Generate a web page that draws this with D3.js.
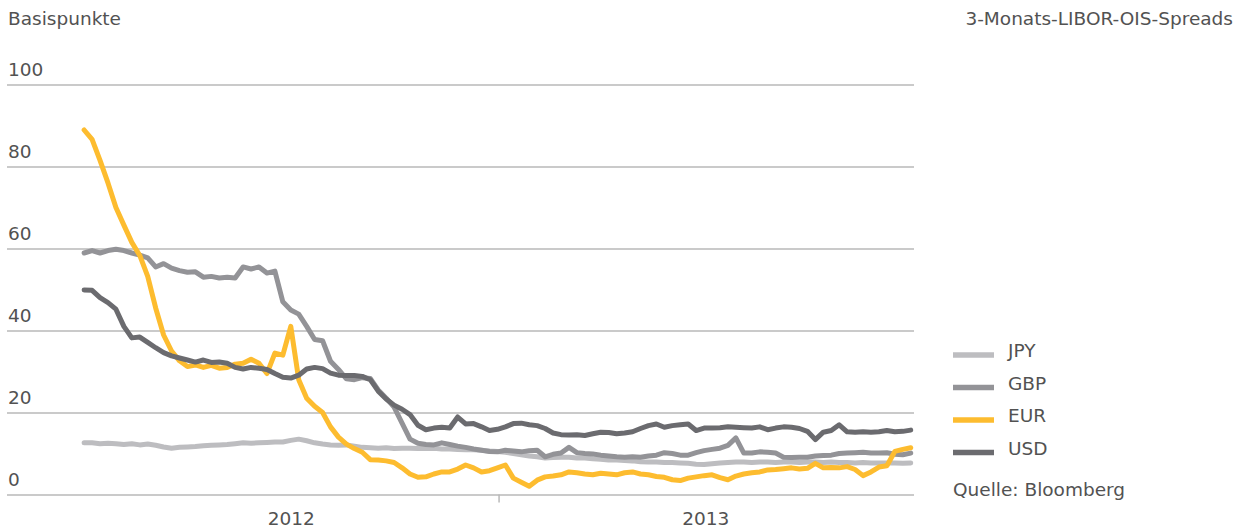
<!DOCTYPE html>
<html>
<head>
<meta charset="utf-8">
<script src="https://cdn.jsdelivr.net/npm/d3@7"></script>
<style>
  body { margin: 0; background: #fff; }
  svg text { font-family: "DejaVu Sans", Verdana, sans-serif; fill: #525252; }
</style>
</head>
<body>
<div id="chart"></div>
<script>
// weekly readings, first Monday of 2012 to last Monday of 2013
const dates = d3.timeMonday.range(new Date(2012, 0, 2), new Date(2014, 0, 1));

const jpy = [
  12.6, 12.6, 12.4, 12.5, 12.4, 12.2, 12.4, 12.1, 12.3, 12,
  11.6, 11.3, 11.5, 11.6, 11.7, 11.9, 12, 12.1, 12.2, 12.4,
  12.6, 12.5, 12.6, 12.7, 12.8, 12.8, 13.2, 13.5, 13.1, 12.6,
  12.3, 12.1, 12, 12.1, 11.8, 11.5, 11.4, 11.3, 11.4, 11.2,
  11.3, 11.3, 11.2, 11.2, 11.3, 11.1, 11.1, 11, 10.9, 10.9,
  10.8, 10.6, 10.5, 10.3, 10, 9.7, 9.4, 9.2, 8.9, 9,
  9.1, 9.1, 8.9, 8.9, 8.7, 8.6, 8.4, 8.4, 8.3, 8.2,
  8, 7.9, 7.9, 7.8, 7.8, 7.7, 7.6, 7.4, 7.3, 7.5,
  7.7, 7.8, 7.9, 7.9, 7.8, 7.9, 7.9, 7.8, 7.9, 7.9,
  7.8, 7.9, 7.9, 7.8, 7.9, 7.8, 7.8, 7.7, 7.8, 7.7,
  7.7, 7.7, 7.7, 7.6, 7.7
];

const gbp = [
  58.9, 59.5, 58.9, 59.5, 59.8, 59.5, 58.9, 58.4, 57.7, 55.5,
  56.3, 55.2, 54.6, 54.2, 54.3, 53, 53.2, 52.8, 53, 52.8,
  55.5, 55, 55.5, 54, 54.5, 47, 45, 44, 41, 37.8,
  37.5, 32.5, 30.5, 28.2, 28, 28.5, 28.3, 25.5, 23.5, 21.3,
  17.4, 13.5, 12.5, 12.2, 12.1, 12.6, 12.2, 11.8, 11.5, 11.1,
  10.8, 10.5, 10.4, 10.8, 10.6, 10.4, 10.7, 10.8, 9.2, 9.8,
  10.1, 11.5, 10.2, 10, 9.9, 9.6, 9.4, 9.2, 9.1, 9.2,
  9.1, 9.4, 9.6, 10.2, 10, 9.6, 9.6, 10.2, 10.7, 11,
  11.3, 12, 13.8, 10.1, 10.1, 10.4, 10.3, 10.1, 9.1, 9,
  9.1, 9.1, 9.4, 9.5, 9.6, 10, 10.1, 10.2, 10.3, 10.1,
  10.1, 10.2, 9.8, 9.7, 10.1
];

const eur = [
  88.9, 86.6, 81.5, 76, 70, 65.7, 61.5, 58.3, 53.2, 45.5,
  38.9, 35, 32.6, 31.2, 31.6, 31, 31.5, 30.8, 31, 31.8,
  32, 33, 32, 29.5, 34.5, 34, 41, 28, 23.5, 21.5,
  20, 16.5, 14, 12.3, 11.2, 10.3, 8.5, 8.4, 8.2, 7.8,
  6.5, 5, 4.2, 4.3, 5, 5.5, 5.5, 6.2, 7.2, 6.5,
  5.5, 5.8, 6.5, 7.2, 4, 3, 2, 3.5, 4.3, 4.5,
  4.8, 5.5, 5.3, 5, 4.8, 5.2, 5, 4.8, 5.3, 5.5,
  5, 4.8, 4.4, 4.2, 3.6, 3.4, 4, 4.3, 4.6, 4.8,
  4.1, 3.6, 4.5, 5, 5.3, 5.5, 6, 6.1, 6.3, 6.5,
  6.2, 6.4, 7.6, 6.5, 6.6, 6.5, 6.8, 6.1, 4.6, 5.5,
  6.7, 7, 10.5, 11, 11.4
];

const usd = [
  49.9, 49.8, 48, 46.8, 45.2, 41, 38.2, 38.4, 37.1, 35.8,
  34.6, 33.8, 33.3, 32.8, 32.3, 32.8, 32.2, 32.3, 32, 31,
  30.6, 31, 30.8, 30.5, 29.5, 28.6, 28.4, 29.1, 30.6, 31,
  30.7, 29.6, 29.1, 29, 29, 28.8, 28, 25.2, 23.3, 21.8,
  20.8, 19.5, 16.9, 15.8, 16.2, 16.4, 16.2, 18.9, 17.2, 17.3,
  16.5, 15.6, 15.9, 16.5, 17.3, 17.4, 17, 16.8, 16.1, 15,
  14.6, 14.5, 14.6, 14.4, 14.8, 15.2, 15.1, 14.8, 15, 15.3,
  16.1, 16.8, 17.2, 16.4, 16.8, 17, 17.2, 15.6, 16.2, 16.2,
  16.3, 16.5, 16.4, 16.3, 16.2, 16.5, 15.8, 16.2, 16.5, 16.4,
  16.1, 15.4, 13.4, 15.2, 15.6, 17, 15.3, 15.2, 15.3, 15.2,
  15.3, 15.6, 15.3, 15.4, 15.7
];

const seriesNames = ["JPY", "GBP", "EUR", "USD"];
const seriesValues = [jpy, gbp, eur, usd];
const colors = ["#bdbdc0", "#939397", "#fdbc2f", "#6b6b6f"];
const yTicks = [0, 20, 40, 60, 80, 100];
const yearLabels = [new Date(2012, 6, 2), new Date(2013, 6, 2)];
const yearBreaks = [new Date(2013, 0, 1)];

const W = 1241, H = 530;
const svg = d3.select("#chart")
  .append("svg")
  .attr("width", W)
  .attr("height", H);

const x = d3.scaleTime()
  .domain([new Date(2012, 0, 1), new Date(2014, 0, 1)])
  .range([83, 913]);

const y = d3.scaleLinear()
  .domain([0, 100])
  .range([494.5, 84.5]);

// horizontal grid + y labels sitting above the lines
const gridLeft = 7, gridRight = 914;
const yAxis = svg.append("g")
  .attr("transform", `translate(${gridRight}, 0)`)
  .call(d3.axisLeft(y).tickValues(yTicks).tickSize(gridRight - gridLeft));
yAxis.select(".domain").remove();
yAxis.selectAll(".tick line").attr("stroke", "#b9b9b9").attr("stroke-width", 1.5);
yAxis.selectAll(".tick text")
  .attr("x", -(gridRight - gridLeft) + 1)
  .attr("dy", "-0.48em")
  .attr("text-anchor", "start")
  .style("font-size", "18.5px")
  .style("font-family", "'DejaVu Sans', Verdana, sans-serif");

// year break tick
const xTicks = svg.append("g")
  .attr("transform", `translate(0, ${y(0)})`)
  .call(d3.axisBottom(x).tickValues(yearBreaks).tickSize(8).tickFormat(""));
xTicks.select(".domain").remove();
xTicks.selectAll(".tick line").attr("stroke", "#b9b9b9").attr("stroke-width", 1.5);

// year labels centred in each year
const xLabels = svg.append("g")
  .attr("transform", `translate(0, ${y(0)})`)
  .call(d3.axisBottom(x).tickValues(yearLabels).tickSize(0).tickFormat(d3.timeFormat("%Y")));
xLabels.select(".domain").remove();
xLabels.selectAll(".tick text")
  .attr("y", 30)
  .attr("dy", "0")
  .style("font-size", "18.5px")
  .style("font-family", "'DejaVu Sans', Verdana, sans-serif");

const line = d3.line()
  .x((d, i) => x(dates[i]))
  .y(d => y(d));

svg.selectAll("path.series")
  .data(seriesValues)
  .enter()
  .append("path")
  .attr("class", "series")
  .attr("d", line)
  .attr("fill", "none")
  .attr("stroke", (d, i) => colors[i])
  .attr("stroke-width", 5)
  .attr("stroke-linejoin", "round")
  .attr("stroke-linecap", "round");

// titles
svg.append("text")
  .attr("x", 8)
  .attr("y", 25)
  .style("font-size", "18.5px")
  .text("Basispunkte");

svg.append("text")
  .attr("x", 1233)
  .attr("y", 25)
  .attr("text-anchor", "end")
  .style("font-size", "18.5px")
  .text("3-Monats-LIBOR-OIS-Spreads");

// legend
const legend = svg.append("g").attr("transform", "translate(953, 355)");
const items = legend.selectAll("g")
  .data(seriesNames)
  .enter()
  .append("g")
  .attr("transform", (d, i) => `translate(0, ${i * 32.5})`);
items.append("line")
  .attr("x1", 0).attr("x2", 41)
  .attr("y1", 0).attr("y2", 0)
  .attr("stroke", (d, i) => colors[i])
  .attr("stroke-width", 5.5);
items.append("text")
  .attr("x", 55)
  .attr("y", 2)
  .style("font-size", "18.5px")
  .text(d => d);

svg.append("text")
  .attr("x", 953)
  .attr("y", 496)
  .style("font-size", "18.5px")
  .text("Quelle: Bloomberg");
</script>
</body>
</html>
